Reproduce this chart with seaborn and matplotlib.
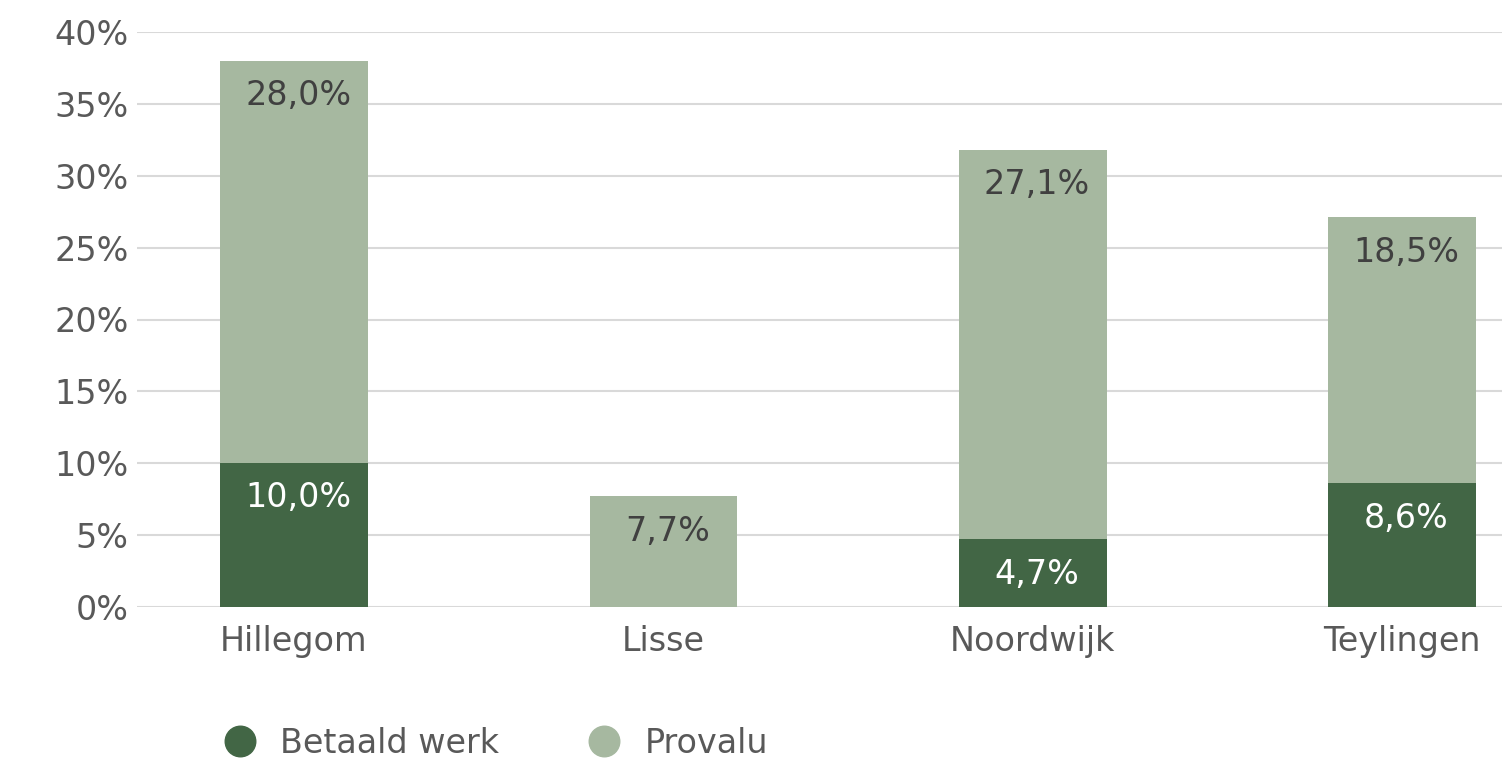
import numpy as np
import pandas as pd
import matplotlib
matplotlib.use("Agg")
import matplotlib.pyplot as plt
import seaborn as sns
from matplotlib.lines import Line2D

# data
gemeenten = ["Hillegom", "Lisse", "Noordwijk", "Teylingen"]
betaald_werk = [10.0, 0.0, 4.7, 8.6]
provalu = [28.0, 7.7, 27.1, 18.5]

DARK = "#426645"
LIGHT = "#a6b8a0"
TEXT = "#595959"
GRID = "#d9d9d9"
FS = 24

df = pd.DataFrame({
    "gemeente": gemeenten,
    "betaald": betaald_werk,
    "provalu": provalu,
})
df["totaal"] = df["betaald"] + df["provalu"]

sns.set_theme(style="white")
plt.rcParams["font.family"] = ["DejaVu Sans"]

fig = plt.figure(figsize=(15.02, 7.61), dpi=100)
ax = fig.add_axes([137 / 1502, 1 - 607 / 761, 1 - 137 / 1502, (607 - 32) / 761])

# stacked: totaal in licht, betaald eroverheen in donker
sns.barplot(data=df, x="gemeente", y="totaal", color=LIGHT, width=0.4,
            saturation=1, linewidth=0, ax=ax, zorder=3)
sns.barplot(data=df, x="gemeente", y="betaald", color=DARK, width=0.4,
            saturation=1, linewidth=0, ax=ax, zorder=3)

ax.set_ylim(0, 40)
ax.set_xlim(-0.425, 3.27)
ax.set_yticks(np.arange(0, 41, 5))
ax.set_yticklabels([f"{t}%" for t in range(0, 41, 5)])
ax.set_xlabel("")
ax.set_ylabel("")
ax.grid(axis="y", color=GRID, linewidth=1.5, zorder=0)
ax.grid(axis="x", visible=False)
for s in ax.spines.values():
    s.set_visible(False)
ax.tick_params(axis="both", colors=TEXT, labelsize=FS, length=0)
ax.tick_params(axis="y", pad=6)
ax.tick_params(axis="x", pad=13)


def fmt(v):
    return f"{v:.1f}".replace(".", ",") + "%"


for i, row in df.iterrows():
    if row["betaald"] > 0:
        ax.annotate(fmt(row["betaald"]), (i, row["betaald"]),
                    xytext=(3, -25), textcoords="offset points",
                    ha="center", va="center", color="white", fontsize=FS,
                    zorder=5)
    ax.annotate(fmt(row["provalu"]), (i, row["totaal"]),
                xytext=(3, -25), textcoords="offset points",
                ha="center", va="center", color="#404040", fontsize=FS,
                zorder=5)

handles = [
    Line2D([], [], marker="o", linestyle="", markersize=22,
           markerfacecolor=DARK, markeredgecolor=DARK, label="Betaald werk"),
    Line2D([], [], marker="o", linestyle="", markersize=22,
           markerfacecolor=LIGHT, markeredgecolor=LIGHT, label="Provalu"),
]
fig.legend(handles=handles, loc="center left", bbox_to_anchor=(0.129, 0.023),
           ncol=2, frameon=False, fontsize=FS, labelcolor=TEXT,
           handletextpad=0.2, columnspacing=2.15, borderaxespad=0)

fig.savefig("out.png", dpi=100)
